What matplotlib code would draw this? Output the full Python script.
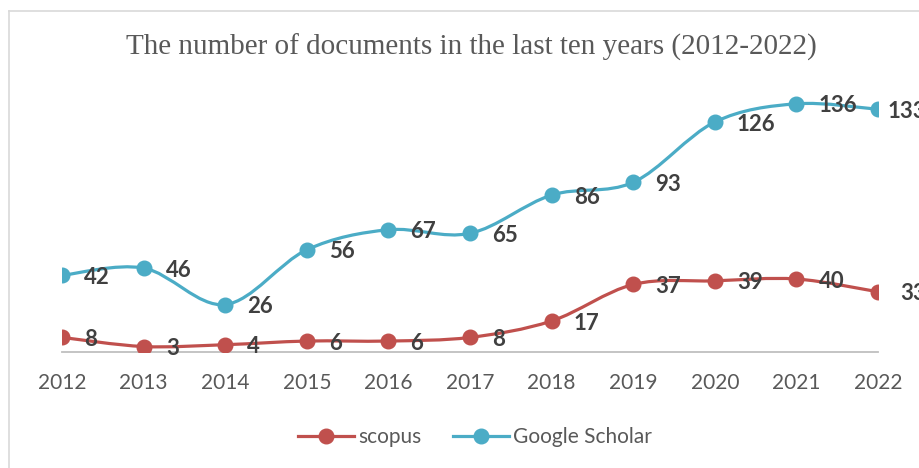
import matplotlib
matplotlib.use("Agg")
import matplotlib.pyplot as plt
import numpy as np
from matplotlib.path import Path
from matplotlib.patches import PathPatch
from matplotlib.lines import Line2D

years = ["2012", "2013", "2014", "2015", "2016", "2017", "2018", "2019", "2020", "2021", "2022"]
scopus = [8, 3, 4, 6, 6, 8, 17, 37, 39, 40, 33]
scholar = [42, 46, 26, 56, 67, 65, 86, 93, 126, 136, 133]

RED = "#C0504D"
BLUE = "#4BACC6"
TXT = "#595959"
LBL = "#404040"

W, H = 920, 468
fig = plt.figure(figsize=(W / 100, H / 100), dpi=100)
ax = fig.add_axes([62 / W, (H - 352) / H, (878 - 62) / W, (352 - 60) / H])

x = np.arange(len(years))


def smooth_path(xs, ys):
    pts = np.column_stack([xs, ys]).astype(float)
    n = len(pts)
    verts = [pts[0]]
    codes = [Path.MOVETO]
    for i in range(n - 1):
        p0 = pts[i - 1] if i > 0 else pts[i]
        p1 = pts[i]
        p2 = pts[i + 1]
        p3 = pts[i + 2] if i + 2 < n else pts[i + 1]
        c1 = p1 + (p2 - p0) / 6.0
        c2 = p2 - (p3 - p1) / 6.0
        verts += [c1, c2, p2]
        codes += [Path.CURVE4] * 3
    return Path(verts, codes)


for vals, col, last_dx in [(scopus, RED, 16), (scholar, BLUE, 7)]:
    ax.add_patch(PathPatch(smooth_path(x, vals), facecolor="none", edgecolor=col,
                           lw=2.3, capstyle="round", joinstyle="round", zorder=3))
    ax.plot(x, vals, ls="none", marker="o", ms=10.5, color=col, zorder=4)
    for xi, v in zip(x, vals):
        dx = last_dx if xi == x[-1] else 16
        ax.annotate(str(v), (xi, v), xytext=(dx, -1.5), textcoords="offset points",
                    ha="left", va="center", fontsize=16, fontweight="bold",
                    color=LBL, family="Lato", annotation_clip=False, zorder=5)

ax.set_xlim(0, 10)
ax.set_ylim(0, 160)
ax.set_xticks(x)
ax.set_xticklabels(years, fontsize=15, color=TXT, family="Lato")
ax.tick_params(axis="x", length=0, pad=15)
ax.set_yticks([])
for s in ["top", "right", "left"]:
    ax.spines[s].set_visible(False)
ax.spines["bottom"].set_color("#BFBFBF")
ax.spines["bottom"].set_linewidth(1.3)
ax.set_facecolor("none")

fig.text(471 / W, 1 - 47 / H, "The number of documents in the last ten years (2012-2022)",
         ha="center", va="center", fontsize=21, color=TXT, family="Liberation Serif")

handles = [
    Line2D([], [], color=RED, lw=2.3, marker="o", ms=10.5),
    Line2D([], [], color=BLUE, lw=2.3, marker="o", ms=10.5),
]
leg = fig.legend(handles, ["scopus", "Google Scholar"], loc="center",
                 bbox_to_anchor=(475 / W, 1 - 437 / H), ncol=2, frameon=False,
                 prop={"family": "Lato", "size": 15}, handlelength=2.7,
                 handletextpad=0.2, columnspacing=1.5)
for t in leg.get_texts():
    t.set_color(TXT)

# outer chart border (partially visible)
fig.add_artist(Line2D([8.5 / W, 8.5 / W], [0, 1 - 10.5 / H], color="#D9D9D9", lw=1.2,
                      transform=fig.transFigure))
fig.add_artist(Line2D([8.5 / W, 1], [1 - 10.5 / H, 1 - 10.5 / H], color="#D9D9D9", lw=1.2,
                      transform=fig.transFigure))

fig.savefig("out.png", dpi=100)
